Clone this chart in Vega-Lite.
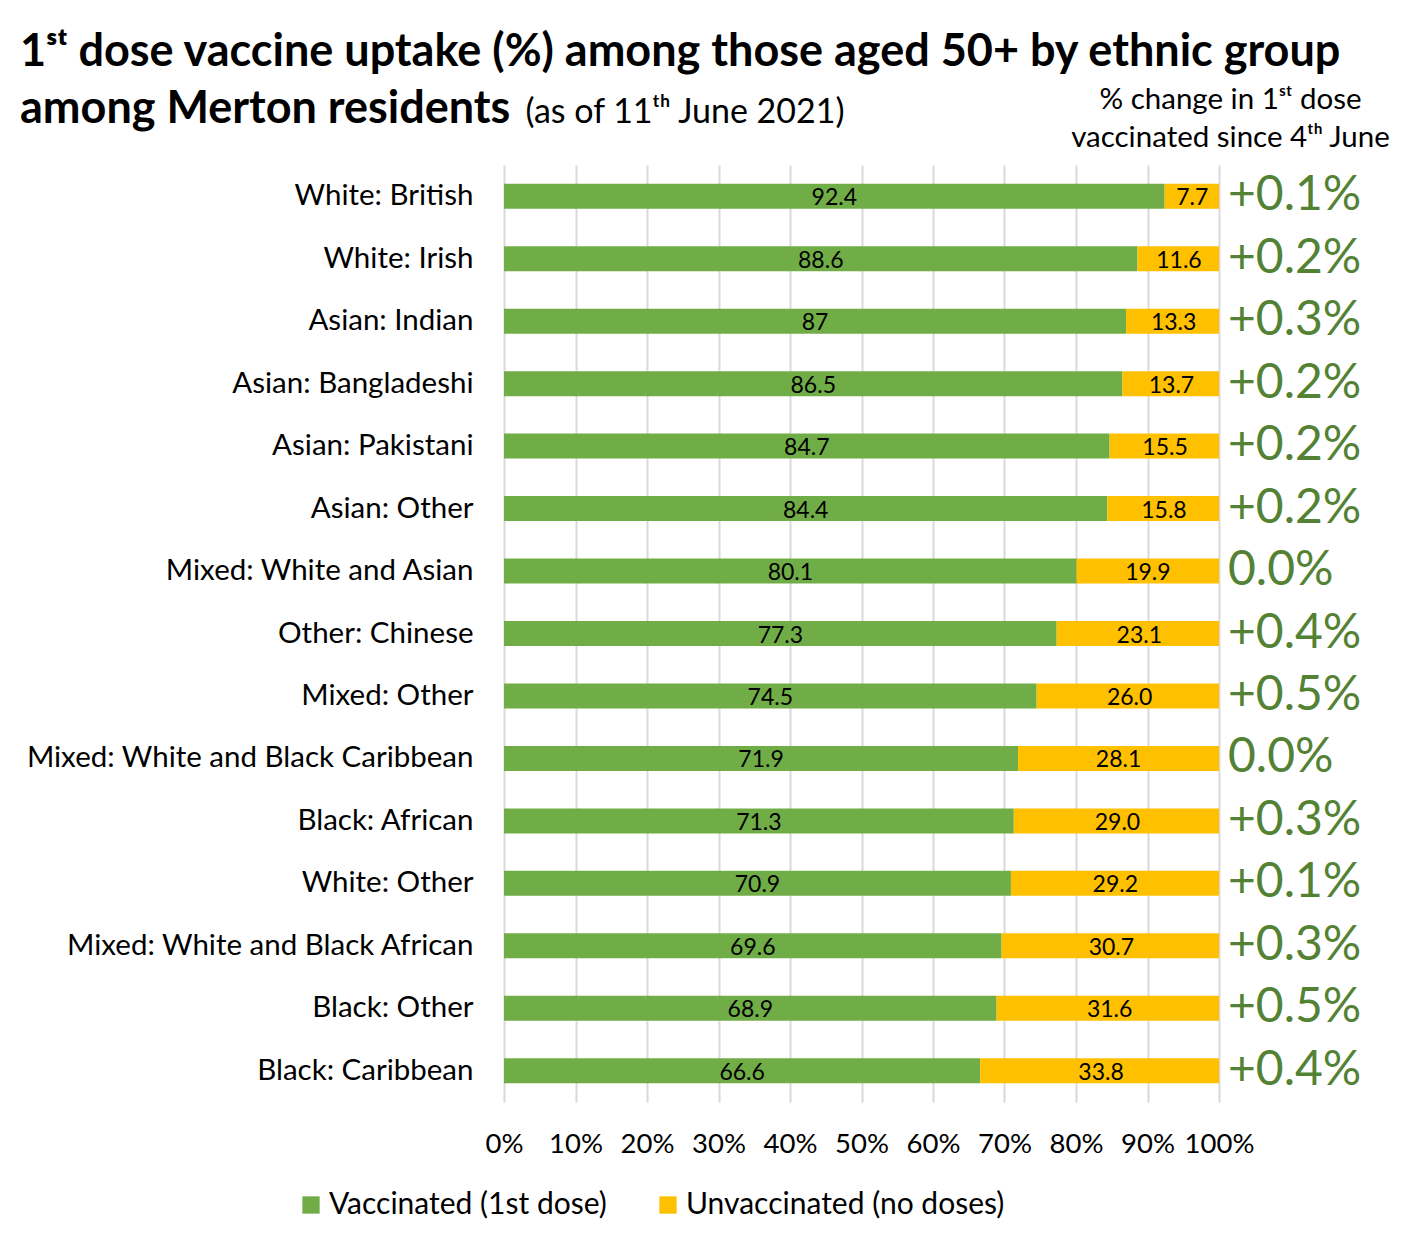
{
  "$schema": "https://vega.github.io/schema/vega-lite/v6.json",
  "width": 715,
  "height": 937,
  "autosize": {"type": "none"},
  "padding": {"left": 504, "top": 165, "right": 189, "bottom": 132},
  "background": "white",
  "config": {
    "font": "Lato",
    "view": {"stroke": null},
    "title": {"font": "Lato", "color": "black"},
    "axis": {"labelFont": "Lato", "titleFont": "Lato", "labelColor": "black", "titleColor": "black"},
    "legend": {"labelFont": "Lato"}
  },
  "title": {
    "text": ["1ˢᵗ dose vaccine uptake (%) among those aged 50+ by ethnic group", "among Merton residents"],
    "anchor": "start",
    "frame": "group",
    "dx": -484,
    "dy": 94,
    "fontSize": 45,
    "fontWeight": "bold",
    "lineHeight": 57,
    "baseline": "alphabetic",
    "offset": 10
  },
  "data": {
    "values": [
      {"group": "White: British", "status": "Vaccinated (1st dose)", "value": 92.4, "label": "92.4", "change": "+0.1%"},
      {"group": "White: British", "status": "Unvaccinated (no doses)", "value": 7.7, "label": "7.7", "change": "+0.1%"},
      {"group": "White: Irish", "status": "Vaccinated (1st dose)", "value": 88.6, "label": "88.6", "change": "+0.2%"},
      {"group": "White: Irish", "status": "Unvaccinated (no doses)", "value": 11.6, "label": "11.6", "change": "+0.2%"},
      {"group": "Asian: Indian", "status": "Vaccinated (1st dose)", "value": 87, "label": "87", "change": "+0.3%"},
      {"group": "Asian: Indian", "status": "Unvaccinated (no doses)", "value": 13.3, "label": "13.3", "change": "+0.3%"},
      {"group": "Asian: Bangladeshi", "status": "Vaccinated (1st dose)", "value": 86.5, "label": "86.5", "change": "+0.2%"},
      {"group": "Asian: Bangladeshi", "status": "Unvaccinated (no doses)", "value": 13.7, "label": "13.7", "change": "+0.2%"},
      {"group": "Asian: Pakistani", "status": "Vaccinated (1st dose)", "value": 84.7, "label": "84.7", "change": "+0.2%"},
      {"group": "Asian: Pakistani", "status": "Unvaccinated (no doses)", "value": 15.5, "label": "15.5", "change": "+0.2%"},
      {"group": "Asian: Other", "status": "Vaccinated (1st dose)", "value": 84.4, "label": "84.4", "change": "+0.2%"},
      {"group": "Asian: Other", "status": "Unvaccinated (no doses)", "value": 15.8, "label": "15.8", "change": "+0.2%"},
      {"group": "Mixed: White and Asian", "status": "Vaccinated (1st dose)", "value": 80.1, "label": "80.1", "change": "0.0%"},
      {"group": "Mixed: White and Asian", "status": "Unvaccinated (no doses)", "value": 19.9, "label": "19.9", "change": "0.0%"},
      {"group": "Other: Chinese", "status": "Vaccinated (1st dose)", "value": 77.3, "label": "77.3", "change": "+0.4%"},
      {"group": "Other: Chinese", "status": "Unvaccinated (no doses)", "value": 23.1, "label": "23.1", "change": "+0.4%"},
      {"group": "Mixed: Other", "status": "Vaccinated (1st dose)", "value": 74.5, "label": "74.5", "change": "+0.5%"},
      {"group": "Mixed: Other", "status": "Unvaccinated (no doses)", "value": 26.0, "label": "26.0", "change": "+0.5%"},
      {"group": "Mixed: White and Black Caribbean", "status": "Vaccinated (1st dose)", "value": 71.9, "label": "71.9", "change": "0.0%"},
      {"group": "Mixed: White and Black Caribbean", "status": "Unvaccinated (no doses)", "value": 28.1, "label": "28.1", "change": "0.0%"},
      {"group": "Black: African", "status": "Vaccinated (1st dose)", "value": 71.3, "label": "71.3", "change": "+0.3%"},
      {"group": "Black: African", "status": "Unvaccinated (no doses)", "value": 29.0, "label": "29.0", "change": "+0.3%"},
      {"group": "White: Other", "status": "Vaccinated (1st dose)", "value": 70.9, "label": "70.9", "change": "+0.1%"},
      {"group": "White: Other", "status": "Unvaccinated (no doses)", "value": 29.2, "label": "29.2", "change": "+0.1%"},
      {"group": "Mixed: White and Black African", "status": "Vaccinated (1st dose)", "value": 69.6, "label": "69.6", "change": "+0.3%"},
      {"group": "Mixed: White and Black African", "status": "Unvaccinated (no doses)", "value": 30.7, "label": "30.7", "change": "+0.3%"},
      {"group": "Black: Other", "status": "Vaccinated (1st dose)", "value": 68.9, "label": "68.9", "change": "+0.5%"},
      {"group": "Black: Other", "status": "Unvaccinated (no doses)", "value": 31.6, "label": "31.6", "change": "+0.5%"},
      {"group": "Black: Caribbean", "status": "Vaccinated (1st dose)", "value": 66.6, "label": "66.6", "change": "+0.4%"},
      {"group": "Black: Caribbean", "status": "Unvaccinated (no doses)", "value": 33.8, "label": "33.8", "change": "+0.4%"}
    ]
  },
  "encoding": {
    "y": {
      "field": "group",
      "type": "nominal",
      "sort": null,
      "scale": {"paddingInner": 0.6, "paddingOuter": 0.3},
      "axis": {
        "title": "(as of 11ᵗʰ June 2021)",
        "titleAngle": 0,
        "titleX": 21,
        "titleY": -43,
        "titleAlign": "left",
        "titleBaseline": "alphabetic",
        "titleFontWeight": "normal",
        "titleFontSize": 34,
        "labelFontSize": 29.5,
        "labelPadding": 31,
        "labelLimit": 0,
        "ticks": false,
        "domain": false,
        "grid": false
      }
    }
  },
  "layer": [
    {
      "mark": {"type": "bar", "clip": false},
      "encoding": {
        "x": {
          "field": "value",
          "type": "quantitative",
          "stack": "zero",
          "scale": {"domain": [0, 100], "clamp": true, "nice": false},
          "axis": {
            "values": [0, 10, 20, 30, 40, 50, 60, 70, 80, 90, 100],
            "labelExpr": "datum.value + '%'",
            "labelFontSize": 27.5,
            "labelPadding": 28,
            "labelFlush": false,
            "labelOverlap": false,
            "ticks": false,
            "domain": false,
            "grid": true,
            "gridColor": "#d9d9d9",
            "gridWidth": 2,
            "title": ["% change in 1ˢᵗ dose", "vaccinated since 4ᵗʰ June"],
            "titleX": 726,
            "titleY": -994,
            "titleAlign": "center",
            "titleBaseline": "alphabetic",
            "titleFontWeight": "normal",
            "titleFontSize": 29.5,
            "titleLineHeight": 38
          }
        },
        "color": {
          "field": "status",
          "type": "nominal",
          "scale": {"domain": ["Vaccinated (1st dose)", "Unvaccinated (no doses)"], "range": ["#70AD47", "#FFC000"]},
          "legend": {
            "title": null,
            "orient": "none",
            "legendX": -208,
            "legendY": 1025,
            "direction": "horizontal",
            "symbolType": "square",
            "symbolSize": 300,
            "symbolStrokeWidth": 0,
            "labelFontSize": 30,
            "labelLimit": 0,
            "labelColor": "black",
            "labelOffset": 3,
            "columnPadding": 46
          }
        },
        "order": {"field": "status", "sort": "descending"}
      }
    },
    {
      "transform": [
        {"stack": "value", "groupby": ["group"], "sort": [{"field": "status", "order": "descending"}], "as": ["x0", "x1"]},
        {"calculate": "(datum.x0 + datum.x1) / 2", "as": "mid"}
      ],
      "mark": {"type": "text", "fontSize": 23, "color": "black", "baseline": "middle", "dy": 2},
      "encoding": {
        "x": {"field": "mid", "type": "quantitative"},
        "text": {"field": "label"}
      }
    },
    {
      "transform": [{"filter": "datum.status == 'Vaccinated (1st dose)'"}],
      "mark": {"type": "text", "fontSize": 48, "color": "#548235", "align": "left", "baseline": "middle", "dx": 9},
      "encoding": {
        "x": {"datum": 100},
        "text": {"field": "change"}
      }
    }
  ]
}
